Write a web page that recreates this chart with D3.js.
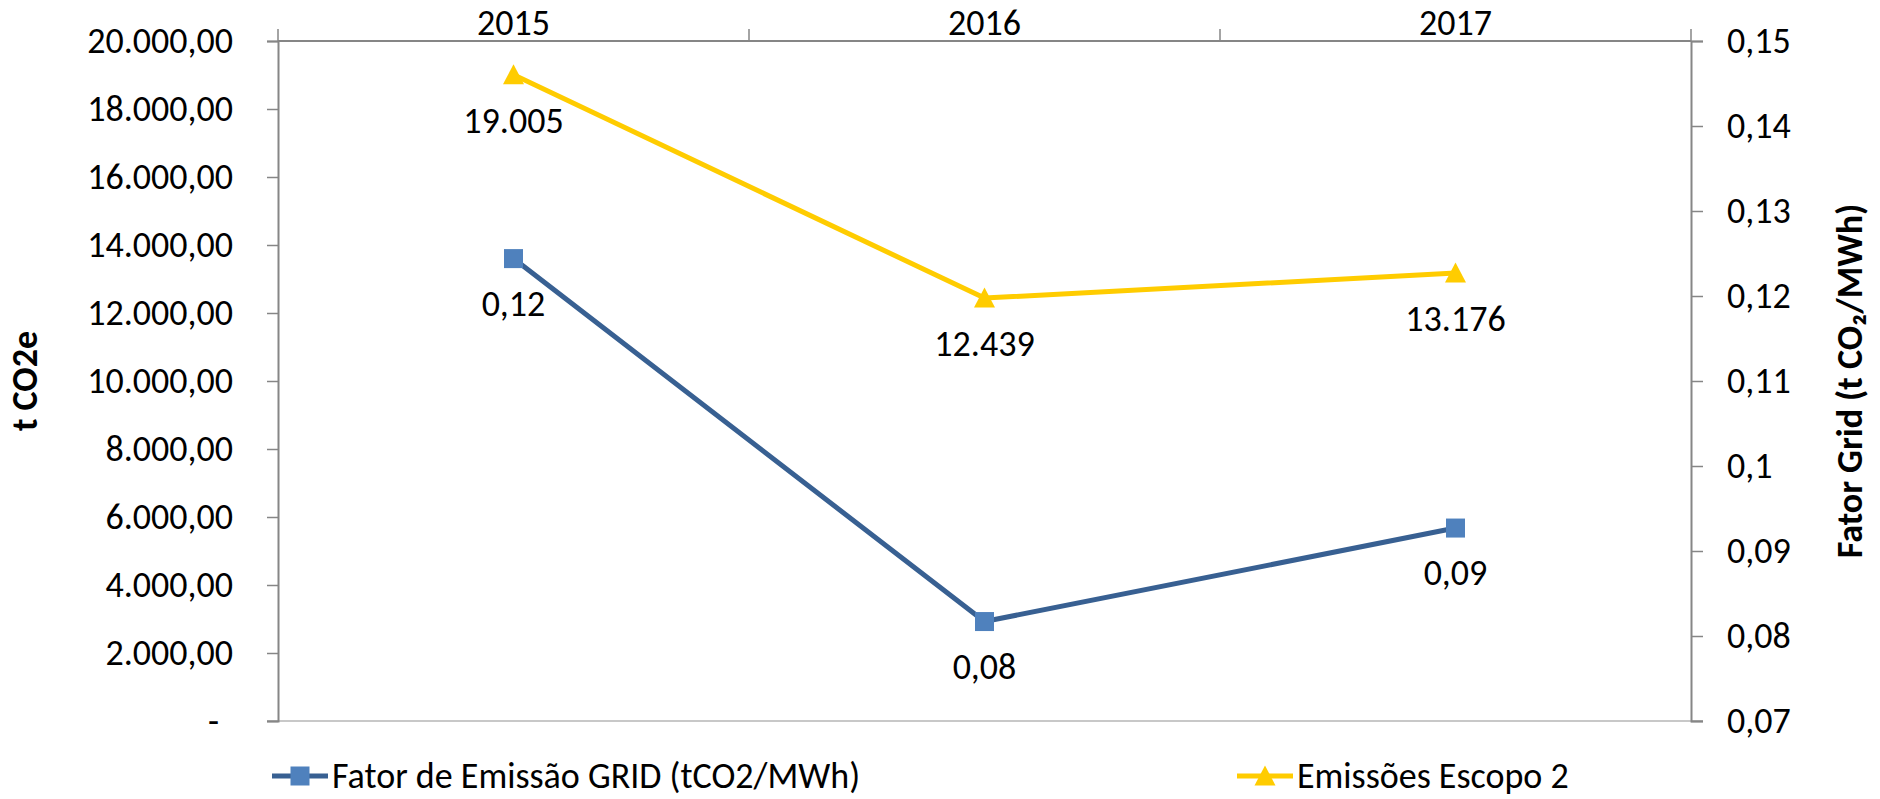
<!DOCTYPE html>
<html>
<head>
<meta charset="utf-8">
<script src="https://cdn.jsdelivr.net/npm/d3@7"></script>
<style>
  html, body { margin: 0; padding: 0; background: #fff; }
  svg { display: block; }
  text { font-family: Calibri, Carlito, "Noto Sans", "Open Sans", sans-serif; fill: #000; }
</style>
</head>
<body>
<svg id="chart" width="1880" height="799"></svg>
<script>
// ---- data ----
const years = ["2015", "2016", "2017"];
const fatorGrid = [0.1244, 0.0817, 0.0927];      // t CO2/MWh (right axis)
const emissoesEscopo2 = [19005, 12439, 13176];   // t CO2e (left axis)
const leftTicks = [0, 2000, 4000, 6000, 8000, 10000, 12000, 14000, 16000, 18000, 20000];
const rightTicks = [0.07, 0.08, 0.09, 0.10, 0.11, 0.12, 0.13, 0.14, 0.15];
const seriesNames = ["Fator de Emissão GRID (tCO2/MWh)", "Emissões Escopo 2"];
const leftTitle = "t CO2e";
const rightTitle = "Fator Grid (t CO₂/MWh)";

// ---- layout ----
const plot = { left: 278, right: 1691, top: 41, bottom: 721 };
const FS = 36;
const axisColor = "#868686";
const blueLine = "#386092", blueMarker = "#4F81BD", yellow = "#FFCC00";

const locale = d3.formatLocale({ decimal: ",", thousands: ".", grouping: [3], currency: ["R$", ""] });
const fmtLeft = locale.format(",.2f");
const fmtInt = locale.format(",.0f");
const fmt2 = locale.format(".2f");
const fmtRight = d => String(+d.toFixed(2)).replace(".", ",");

const svg = d3.select("#chart");

const x = d3.scaleBand().domain(years).range([plot.left, plot.right]).padding(0);
const xc = d => x(d) + x.bandwidth() / 2;
const yL = d3.scaleLinear().domain([0, 20000]).range([plot.bottom, plot.top]);
const yR = d3.scaleLinear().domain([0.07, 0.15]).range([plot.bottom, plot.top]);

// bottom border (light)
svg.append("line")
  .attr("x1", plot.left - 11).attr("x2", plot.right + 12)
  .attr("y1", plot.bottom).attr("y2", plot.bottom)
  .attr("stroke", "#c8c8c8").attr("stroke-width", 2);

// top category axis
svg.append("line")
  .attr("x1", plot.left).attr("x2", plot.right)
  .attr("y1", plot.top).attr("y2", plot.top)
  .attr("stroke", axisColor).attr("stroke-width", 2);
const bounds = years.map(d => x(d)).concat([x.range()[1]]);
svg.append("g").selectAll("line").data(bounds).join("line")
  .attr("x1", d => d).attr("x2", d => d)
  .attr("y1", plot.top - 12).attr("y2", plot.top)
  .attr("stroke", axisColor).attr("stroke-width", 1.5);
svg.append("g").selectAll("text").data(years).join("text")
  .attr("x", d => xc(d)).attr("y", 35)
  .attr("text-anchor", "middle")
  .style("font-size", FS + "px")
  .text(d => d);

// left axis
const gL = svg.append("g").attr("transform", `translate(${plot.left},0)`)
  .call(d3.axisLeft(yL).tickValues(leftTicks).tickSize(11).tickPadding(34)
    .tickFormat(d => d === 0 ? "-" : fmtLeft(d)));
gL.select(".domain").attr("stroke", axisColor).attr("stroke-width", 2);
gL.selectAll(".tick line").attr("stroke", axisColor).attr("stroke-width", 1.5);
gL.selectAll(".tick text").style("font-size", FS + "px")
  .attr("dx", d => d === 0 ? -14 : 0);
gL.attr("font-family", null).attr("font-size", null);

// right axis
const gR = svg.append("g").attr("transform", `translate(${plot.right},0)`)
  .call(d3.axisRight(yR).tickValues(rightTicks).tickSize(12).tickPadding(24).tickFormat(fmtRight));
gR.select(".domain").attr("stroke", axisColor).attr("stroke-width", 2);
gR.selectAll(".tick line").attr("stroke", axisColor).attr("stroke-width", 1.5);
gR.selectAll(".tick text").style("font-size", FS + "px");
gR.attr("font-family", null).attr("font-size", null);

// axis titles
svg.append("text")
  .attr("transform", `translate(25,${(plot.top + plot.bottom) / 2}) rotate(-90)`)
  .attr("text-anchor", "middle").attr("dominant-baseline", "central")
  .style("font-size", FS + "px").style("font-weight", "bold")
  .text(leftTitle);
svg.append("text")
  .attr("transform", `translate(1850,${(plot.top + plot.bottom) / 2}) rotate(-90)`)
  .attr("text-anchor", "middle").attr("dominant-baseline", "central")
  .style("font-size", FS + "px").style("font-weight", "bold")
  .text(rightTitle);

// series lines
const lineF = d3.line().x((d, i) => xc(years[i])).y(d => yR(d));
const lineE = d3.line().x((d, i) => xc(years[i])).y(d => yL(d));

svg.append("path").datum(fatorGrid).attr("d", lineF)
  .attr("fill", "none").attr("stroke", blueLine).attr("stroke-width", 5).attr("stroke-linejoin", "round");
svg.append("path").datum(emissoesEscopo2).attr("d", lineE)
  .attr("fill", "none").attr("stroke", yellow).attr("stroke-width", 5).attr("stroke-linejoin", "round");

const MS = 19;
const triPath = `M0,${-MS / 2 - 1} L${MS / 2 + 1},${MS / 2} L${-MS / 2 - 1},${MS / 2} Z`;

svg.append("g").selectAll("rect").data(fatorGrid).join("rect")
  .attr("x", (d, i) => xc(years[i]) - MS / 2).attr("y", d => yR(d) - MS / 2)
  .attr("width", MS).attr("height", MS).attr("fill", blueMarker);
svg.append("g").selectAll("path").data(emissoesEscopo2).join("path")
  .attr("transform", (d, i) => `translate(${xc(years[i])},${yL(d)})`)
  .attr("d", triPath).attr("fill", yellow);

// data labels
svg.append("g").selectAll("text").data(fatorGrid).join("text")
  .attr("x", (d, i) => xc(years[i])).attr("y", d => yR(d) + 45)
  .attr("text-anchor", "middle").attr("dominant-baseline", "central")
  .style("font-size", FS + "px").text(d => fmt2(d));
svg.append("g").selectAll("text").data(emissoesEscopo2).join("text")
  .attr("x", (d, i) => xc(years[i])).attr("y", d => yL(d) + 46)
  .attr("text-anchor", "middle").attr("dominant-baseline", "central")
  .style("font-size", FS + "px").text(d => fmtInt(d));

// legend
const legY = 776;
const legItems = [
  { name: seriesNames[0], x0: 272, color: blueLine, marker: "square" },
  { name: seriesNames[1], x0: 1237, color: yellow, marker: "triangle" }
];
const lg = svg.append("g").selectAll("g").data(legItems).join("g");
lg.append("line")
  .attr("x1", d => d.x0).attr("x2", d => d.x0 + 56)
  .attr("y1", legY).attr("y2", legY)
  .attr("stroke", d => d.color).attr("stroke-width", 5);
lg.filter(d => d.marker === "square").append("rect")
  .attr("x", d => d.x0 + 28 - MS / 2).attr("y", legY - MS / 2)
  .attr("width", MS).attr("height", MS).attr("fill", blueMarker);
lg.filter(d => d.marker === "triangle").append("path")
  .attr("transform", d => `translate(${d.x0 + 28},${legY})`)
  .attr("d", triPath).attr("fill", yellow);
lg.append("text")
  .attr("x", d => d.x0 + 60).attr("y", legY)
  .attr("dominant-baseline", "central")
  .style("font-size", FS + "px").text(d => d.name);
</script>
</body>
</html>
